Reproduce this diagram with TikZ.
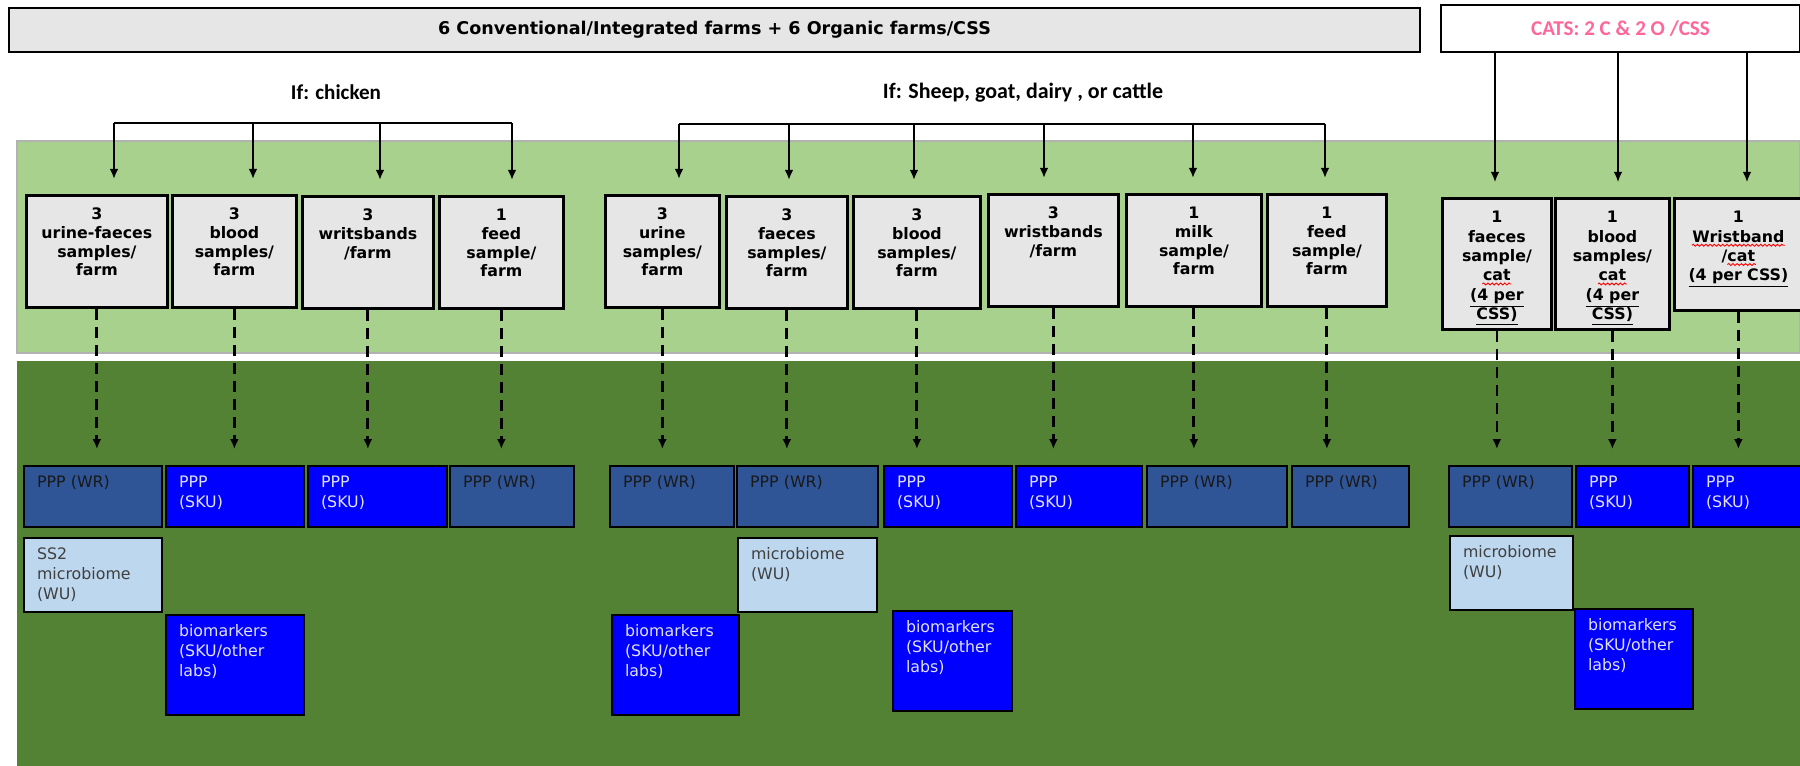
\documentclass[tikz,border=0pt]{standalone}
\usepackage{fontspec}
\usetikzlibrary{arrows.meta,decorations.pathmorphing}
\newfontfamily\headfont{Carlito}
\newfontfamily\boxfont{DejaVu Sans}
\definecolor{boxgray}{RGB}{231,230,230}
\definecolor{lightband}{RGB}{169,209,142}
\definecolor{darkband}{RGB}{84,130,53}
\definecolor{wrblue}{RGB}{47,85,151}
\definecolor{skublue}{RGB}{0,0,255}
\definecolor{wulight}{RGB}{189,215,238}
\definecolor{catpink}{RGB}{255,102,153}
\tikzset{
  head/.style={font=\headfont\bfseries\fontsize{12}{14}\selectfont},
  sample/.style={draw=black, line width=1.6pt, fill=boxgray, anchor=north west, align=center,
    inner sep=0pt, text height=0.49cm, text depth=1.75cm,
    font=\boxfont\bfseries\fontsize{9}{10.6}\selectfont},
  catsample/.style={sample, text depth=2.13cm, font=\boxfont\bfseries\fontsize{9}{11}\selectfont},
  res/.style={draw=black, line width=1.2pt, anchor=north west, align=left,
    inner xsep=0.26cm, inner ysep=0pt, text height=0.43cm,
    font=\boxfont\fontsize{9}{11.4}\selectfont},
  wr/.style={res, fill=wrblue, text=black!90},
  sku/.style={res, fill=skublue, text=white!88!blue},
  wu/.style={res, fill=wulight, text=black!75},
  row1/.style={text depth=0.79cm},
  row2/.style={text depth=1.05cm},
  row3/.style={text depth=1.57cm},
  dropline/.style={line width=1.1pt, -{Latex[length=0.2cm,width=0.17cm]}, shorten >=0.3cm},
  dashline/.style={line width=1.6pt, dash pattern=on 0.22cm off 0.14cm,
    -{Latex[length=0.2cm,width=0.18cm]}, shorten >=0.32cm},
  spellmark/.style={draw=red, line width=0.5pt, decorate,
    decoration={snake, amplitude=0.55pt, segment length=2.4pt}}
}
\begin{document}
\begin{tikzpicture}[x=0.02cm,y=-0.02cm]
      \useasboundingbox (0,0) rectangle (1800,766);
      \filldraw [fill=lightband, draw=black!30, line width=0.6pt] (17,141) rectangle (1800,353);
      \fill [darkband] (17,361) rectangle (1800,766);

      \node [draw=black, line width=1.4pt, fill=boxgray, minimum width=28.22cm, minimum height=0.88cm, font=\boxfont\bfseries\fontsize{10}{12}\selectfont] (farms) at (714.5,30) {6 Conventional/Integrated farms + 6 Organic farms/CSS};
      \node [head, draw=black, line width=0.8pt, fill=white, text=catpink, minimum width=7.18cm, minimum height=0.94cm] (cats) at (1620.5,28.5) {CATS: 2 C \& 2 O /CSS};
      \node [head] (ifchicken) at (336,92) {If: chicken};
      \node [head, font=\headfont\bfseries\fontsize{12.5}{14}\selectfont] (ifruminant) at (1023,93) {If: Sheep, goat, dairy , or cattle};

      \node [sample, text width=2.82cm] (s1) at (25,194) {3\\urine-faeces\\samples/\\farm};
      \node [sample, text width=2.48cm] (s2) at (171,194) {3\\blood\\samples/\\farm};
      \node [sample, text width=2.62cm] (s3) at (301,195) {3\\writsbands\\/farm};
      \node [sample, text width=2.48cm] (s4) at (438,195) {1\\feed\\sample/\\farm};
      \node [sample, text width=2.28cm] (s5) at (604,194) {3\\urine\\samples/\\farm};
      \node [sample, text width=2.42cm] (s6) at (725,195) {3\\faeces\\samples/\\farm};
      \node [sample, text width=2.54cm] (s7) at (852,195) {3\\blood\\samples/\\farm};
      \node [sample, text width=2.60cm] (s8) at (987,193) {3\\wristbands\\/farm};
      \node [sample, text width=2.70cm] (s9) at (1125,193) {1\\milk\\sample/\\farm};
      \node [sample, text width=2.38cm] (s10) at (1266,193) {1\\feed\\sample/\\farm};
      \node [catsample, text width=2.18cm] (s11) at (1441,197) {1\\faeces\\sample/\\cat\\\underline{(4 per}\\\underline{CSS)}};
      \node [catsample, text width=2.28cm] (s12) at (1554,197) {1\\blood\\samples/\\cat\\\underline{(4 per}\\\underline{CSS)}};
      \node [catsample, text depth=1.75cm, text width=2.56cm] (s13) at (1673,197) {1\\Wristband\\/cat\\\underline{(4 per CSS)}};

      \draw [spellmark] ([shift={(-0.29cm,-1.74cm)}]s11.north) -- ++(0.58cm,0);
      \draw [spellmark] ([shift={(-0.29cm,-1.74cm)}]s12.north) -- ++(0.58cm,0);
      \draw [spellmark] ([shift={(-0.93cm,-0.965cm)}]s13.north) -- ++(1.86cm,0);
      \draw [spellmark] ([shift={(-0.22cm,-1.351cm)}]s13.north) -- ++(0.57cm,0);

      \node [wr, row1, text width=2.24cm] (r1) at (23,465) {PPP (WR)};
      \node [sku, row1, text width=2.24cm] (r2) at (165,465) {PPP\\(SKU)};
      \node [sku, row1, text width=2.26cm] (r3) at (307,465) {PPP\\(SKU)};
      \node [wr, row1, text width=1.96cm] (r4) at (449,465) {PPP (WR)};
      \node [wr, row1, text width=1.96cm] (r5) at (609,465) {PPP (WR)};
      \node [wr, row1, text width=2.30cm] (r6) at (736,465) {PPP (WR)};
      \node [sku, row1, text width=2.04cm] (r7) at (883,465) {PPP\\(SKU)};
      \node [sku, row1, text width=2.00cm] (r8) at (1015,465) {PPP\\(SKU)};
      \node [wr, row1, text width=2.28cm] (r9) at (1146,465) {PPP (WR)};
      \node [wr, row1, text width=1.82cm] (r10) at (1291,465) {PPP (WR)};
      \node [wr, row1, text width=1.94cm] (r11) at (1448,465) {PPP (WR)};
      \node [sku, row1, text width=1.74cm] (r12) at (1575,465) {PPP\\(SKU)};
      \node [sku, row1, text width=1.72cm] (r13) at (1692,465) {PPP\\(SKU)};

      \node [wu, row2, text width=2.24cm] (m1) at (23,537) {SS2\\microbiome\\(WU)};
      \node [wu, row2, text width=2.26cm] (m2) at (737,537) {microbiome\\(WU)};
      \node [wu, row2, text width=1.94cm] (m3) at (1449,535) {microbiome\\(WU)};

      \node [sku, row3, text width=2.24cm] (b1) at (165,614) {biomarkers\\(SKU/other\\labs)};
      \node [sku, row3, text width=2.02cm] (b2) at (611,614) {biomarkers\\(SKU/other\\labs)};
      \node [sku, row3, text width=1.86cm] (b3) at (892,610) {biomarkers\\(SKU/other\\labs)};
      \node [sku, row3, text width=1.84cm] (b4) at (1574,608) {biomarkers\\(SKU/other\\labs)};

      \coordinate (ch1) at (114,123);
      \coordinate (ch2) at (253,123);
      \coordinate (ch3) at (380,123);
      \coordinate (ch4) at (512,123);
      \coordinate (sh1) at (679,124);
      \coordinate (sh2) at (789,124);
      \coordinate (sh3) at (914,124);
      \coordinate (sh4) at (1044,124);
      \coordinate (sh5) at (1193,124);
      \coordinate (sh6) at (1325,124);
      \coordinate (ct1) at (1495,52);
      \coordinate (ct2) at (1618,52);
      \coordinate (ct3) at (1747,52);

      \draw [line width=1.5pt] (ch1) -- (ch4);
      \draw [line width=1.5pt] (sh1) -- (sh6);
      \foreach \c/\s in {ch1/s1,ch2/s2,ch3/s3,ch4/s4,sh1/s5,sh2/s6,sh3/s7,sh4/s8,sh5/s9,sh6/s10}
        \draw [dropline] (\c) -- (\c |- \s.north);
      \foreach \c/\s in {ct1/s11,ct2/s12,ct3/s13}
        \draw [dropline, line width=0.8pt] (\c) -- (\c |- \s.north);

      \foreach \s/\r in {s1/r1,s2/r2,s3/r3,s4/r4,s5/r5,s6/r6,s7/r7,s8/r8,s9/r9,s10/r10,s11/r11,s12/r12,s13/r13}
        \draw [dashline] (\s.south) -- (\s.south |- \r.north);
    \end{tikzpicture}
\end{document}
